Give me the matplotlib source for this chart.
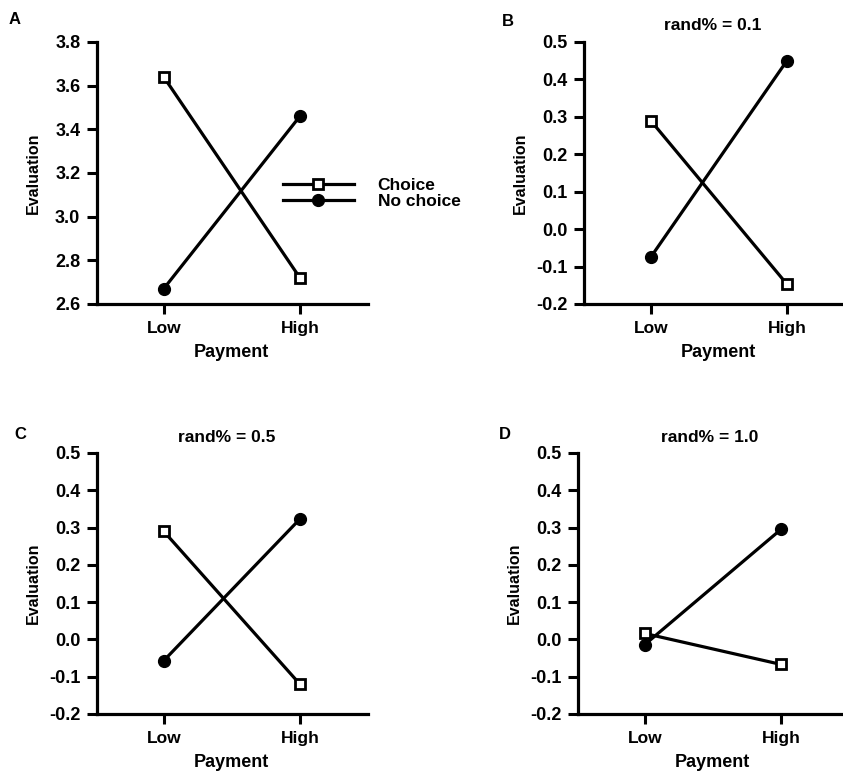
import matplotlib.pyplot as plt

plt.rcParams["font.family"] = ["Liberation Sans", "DejaVu Sans"]
plt.rcParams["font.weight"] = "bold"

payment = ["Low", "High"]

choice_a = [3.64, 2.72]
nochoice_a = [2.67, 3.46]
choice_b = [0.29, -0.147]
nochoice_b = [-0.075, 0.45]
choice_c = [0.29, -0.12]
nochoice_c = [-0.057, 0.323]
choice_d = [0.016, -0.067]
nochoice_d = [-0.014, 0.295]

ticks_a = [2.6, 2.8, 3.0, 3.2, 3.4, 3.6, 3.8]
ticks_rand = [-0.2, -0.1, 0.0, 0.1, 0.2, 0.3, 0.4, 0.5]

W, H = 843, 773
fig = plt.figure(figsize=(W / 100, H / 100), dpi=100)


def px_axes(left, top, width, height):
    return fig.add_axes([left / W, 1 - (top + height) / H, width / W, height / H])


def panel(ax, choice, nochoice, yticks):
    ax.plot(payment, nochoice, color="black", lw=2.3, marker="o", ms=8.5,
            mfc="black", mec="black", label="No choice", zorder=3)
    ax.plot(payment, choice, color="black", lw=2.3, marker="s", ms=7,
            mfc="white", mec="black", mew=2, label="Choice", zorder=4)
    ax.set_xlim(-0.49, 1.5)
    ax.set_ylim(yticks[0], yticks[-1])
    ax.set_yticks(yticks)
    ax.set_yticklabels([f"{t:.1f}" for t in yticks])
    for s in ["top", "right"]:
        ax.spines[s].set_visible(False)
    for s in ["left", "bottom"]:
        ax.spines[s].set_linewidth(2.3)
    ax.tick_params(axis="y", direction="out", length=7, width=2.2, labelsize=13, pad=5)
    ax.tick_params(axis="x", direction="out", length=7, width=2.2, labelsize=12.5, pad=5)
    ax.text(-0.235, 0.5, "Evaluation", rotation=90, transform=ax.transAxes,
            ha="center", va="center", fontsize=11.5)
    ax.text(0.5, -0.187, "Payment", transform=ax.get_xaxis_transform(),
            ha="center", va="center", fontsize=13)


ax_a = px_axes(97, 42, 271, 262)
panel(ax_a, choice_a, nochoice_a, ticks_a)
handles, labels = ax_a.get_legend_handles_labels()
ax_a.legend(handles[::-1], labels[::-1], loc="center left", bbox_to_anchor=(0.686, 0.422),
            frameon=False, handlelength=4.1, handletextpad=1.35, labelspacing=0.0,
            borderpad=0, borderaxespad=0, fontsize=12.5)

ax_b = px_axes(584, 42, 271, 262)
panel(ax_b, choice_b, nochoice_b, ticks_rand)

ax_c = px_axes(97, 453, 271, 261)
panel(ax_c, choice_c, nochoice_c, ticks_rand)

ax_d = px_axes(578, 453, 271, 261)
panel(ax_d, choice_d, nochoice_d, ticks_rand)

fig.text(15 / W, 1 - 20 / H, "A", ha="center", va="center", fontsize=12)
fig.text(508 / W, 1 - 22 / H, "B", ha="center", va="center", fontsize=12)
fig.text(20 / W, 1 - 434 / H, "C", ha="center", va="center", fontsize=12)
fig.text(505 / W, 1 - 434 / H, "D", ha="center", va="center", fontsize=12)

fig.text(713 / W, 1 - 25 / H, "rand% = 0.1", ha="center", va="center", fontsize=12.5)
fig.text(227 / W, 1 - 437 / H, "rand% = 0.5", ha="center", va="center", fontsize=12.5)
fig.text(710 / W, 1 - 437 / H, "rand% = 1.0", ha="center", va="center", fontsize=12.5)

fig.savefig("out.png", dpi=100)
